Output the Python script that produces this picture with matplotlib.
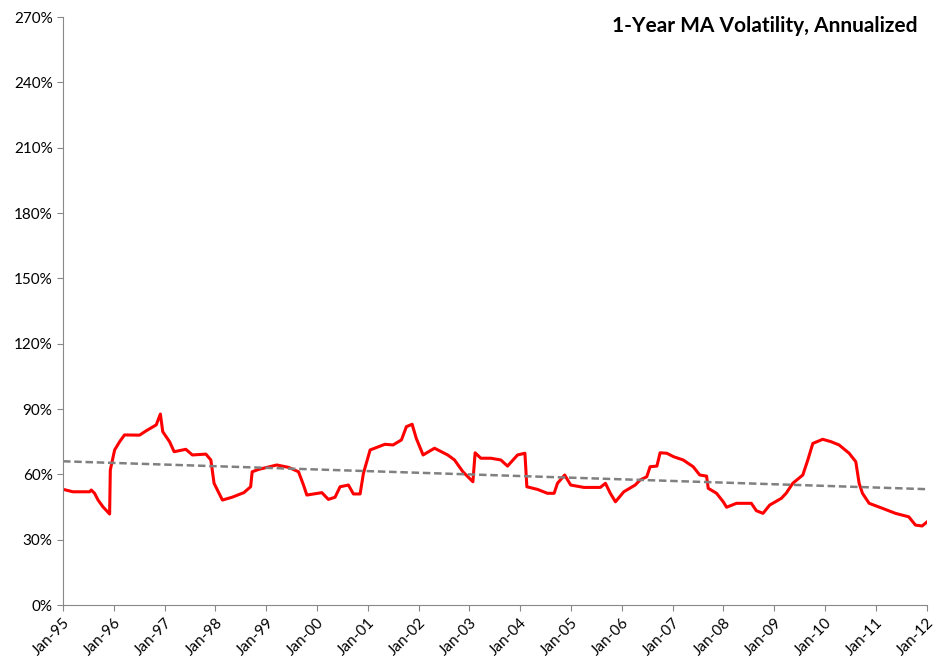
import matplotlib
matplotlib.use("Agg")
import matplotlib.pyplot as plt
import matplotlib.dates as mdates
import matplotlib.ticker as mticker
import pandas as pd

# 1-year moving average volatility, annualized (%)
dates = ["1995-01-03", "1995-03-13", "1995-07-11", "1995-07-23", "1995-08-16", "1995-09-10",
         "1995-10-15", "1995-12-02", "1995-12-07", "1996-01-07", "1996-02-12", "1996-03-18",
         "1996-07-04", "1996-08-21", "1996-11-01", "1996-12-01", "1996-12-18", "1997-02-05",
         "1997-03-10", "1997-06-02", "1997-07-19", "1997-10-24", "1997-11-29", "1997-12-22",
         "1998-02-20", "1998-05-01", "1998-07-24", "1998-09-11", "1998-09-22", "1998-11-09",
         "1999-03-18", "1999-06-11", "1999-08-21", "1999-09-26", "1999-10-20", "2000-02-05",
         "2000-03-23", "2000-05-10", "2000-06-15", "2000-08-14", "2000-09-19", "2000-11-06",
         "2000-11-30", "2001-01-17", "2001-05-03", "2001-07-01", "2001-08-30", "2001-10-05",
         "2001-11-15", "2001-12-15", "2002-02-02", "2002-04-25", "2002-07-29", "2002-09-16",
         "2002-11-15", "2003-01-26", "2003-02-11", "2003-03-24", "2003-06-04", "2003-08-15",
         "2003-10-02", "2003-12-13", "2004-02-04", "2004-02-18", "2004-05-04", "2004-07-15",
         "2004-09-01", "2004-09-25", "2004-11-16", "2004-12-29", "2005-04-03", "2005-07-30",
         "2005-09-05", "2005-10-10", "2005-11-16", "2006-01-15", "2006-04-07", "2006-05-12",
         "2006-06-29", "2006-07-23", "2006-09-10", "2006-10-03", "2006-11-20", "2007-01-08",
         "2007-03-18", "2007-05-29", "2007-07-15", "2007-09-02", "2007-09-14", "2007-11-13",
         "2007-12-31", "2008-01-24", "2008-04-04", "2008-07-20", "2008-08-25", "2008-10-12",
         "2008-11-29", "2009-02-21", "2009-03-27", "2009-05-14", "2009-07-25", "2009-08-30",
         "2009-10-05", "2009-12-15", "2010-02-13", "2010-04-12", "2010-06-23", "2010-08-10",
         "2010-09-03", "2010-09-27", "2010-11-14", "2011-02-18", "2011-05-22", "2011-08-26",
         "2011-10-13", "2011-11-30", "2012-01-05"]
vol = [53.1, 52.0, 52.0, 52.8, 51.3, 48.2,
       45.1, 41.8, 62.0, 71.2, 75.0, 78.1,
       78.0, 80.0, 82.7, 87.7, 79.6, 75.0,
       70.4, 71.5, 68.9, 69.3, 66.6, 55.9,
       48.2, 49.5, 51.6, 54.3, 61.2, 62.3,
       64.3, 63.2, 61.2, 55.1, 50.5, 51.6,
       48.5, 49.5, 54.3, 55.1, 51.0, 51.0,
       60.5, 71.2, 73.8, 73.5, 75.8, 81.9,
       83.0, 76.5, 68.9, 72.0, 68.9, 66.6,
       61.2, 56.6, 69.9, 67.4, 67.4, 66.6,
       63.8, 68.9, 69.7, 54.3, 53.1, 51.3,
       51.3, 55.9, 59.7, 55.1, 54.0, 54.0,
       55.9, 51.3, 47.4, 52.0, 55.1, 57.4,
       58.9, 63.5, 63.8, 69.9, 69.7, 68.1,
       66.6, 63.5, 59.7, 59.2, 53.6, 51.3,
       47.4, 44.9, 46.7, 46.7, 43.3, 42.1,
       45.9, 49.0, 51.3, 55.9, 59.7, 66.6,
       74.2, 76.1, 75.0, 73.5, 69.7, 65.8,
       55.9, 51.3, 46.7, 44.4, 42.1, 40.5,
       36.7, 36.3, 38.2]

# linear trend line end points
trend_dates = ["1995-01-01", "2012-01-01"]
trend_vals = [66.0, 53.2]

tick_years = list(range(1995, 2013))
title = "1-Year MA Volatility, Annualized"

plt.rcParams['font.family'] = ['Lato', 'DejaVu Sans']

fig = plt.figure(figsize=(9.35, 6.59), dpi=100)
ax = fig.add_axes([0.0674, 0.0819, 0.9236, 0.8923])

ax.plot(pd.to_datetime(dates), vol, color='#ff0000', lw=2.2)
ax.plot(pd.to_datetime(trend_dates), trend_vals, color='#808080', lw=1.8, ls=(0, (3, 1.5)))

ax.set_ylim(0, 270)
ax.set_yticks(range(0, 271, 30))
ax.yaxis.set_major_formatter(mticker.FuncFormatter(lambda v, p: f"{int(v)}%"))
ax.set_xlim(pd.Timestamp("1995-01-01"), pd.Timestamp("2012-01-01"))
ax.set_xticks([pd.Timestamp(f"{y}-01-01") for y in tick_years])
ax.xaxis.set_major_formatter(mdates.DateFormatter("%b-%y"))
plt.setp(ax.get_xticklabels(), rotation=45, ha='right', va='top', rotation_mode='anchor')

for s in ['top', 'right']:
    ax.spines[s].set_visible(False)
for s in ['left', 'bottom']:
    ax.spines[s].set_color('#888888')
ax.tick_params(colors='#888888', labelcolor='black', labelsize=11, length=4)

ax.text(0.989, 0.985, title, transform=ax.transAxes, ha='right', va='center',
        fontsize=15, fontweight='bold')

fig.savefig("out.png", dpi=100)
